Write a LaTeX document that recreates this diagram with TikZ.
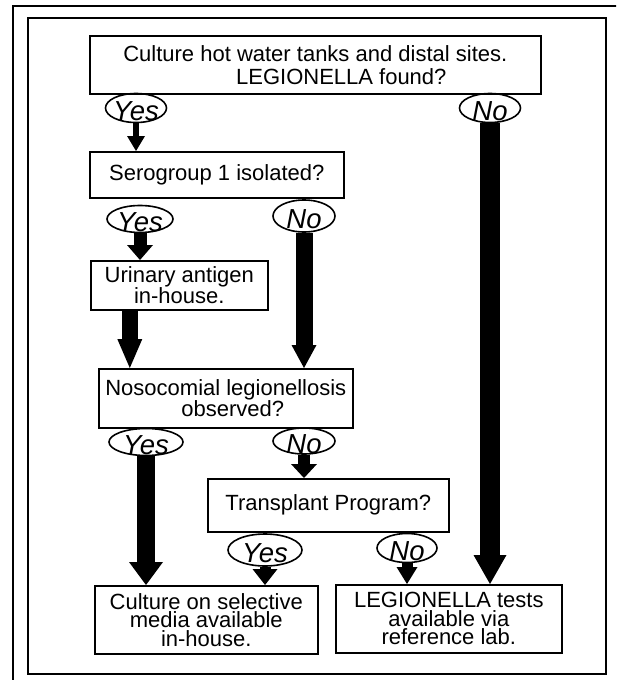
\documentclass[tikz,border=0pt]{standalone}
\usepackage{fontspec}
\setmainfont{Liberation Sans}
\usetikzlibrary{shapes.geometric,arrows.meta}
\begin{document}
\begin{tikzpicture}[x=1pt,y=-1pt,
  box/.style={draw, line width=1.6pt, inner sep=0pt, anchor=north west, align=center},
  txt/.style={font=\fontsize{22}{#1}\selectfont},
  lbl/.style={font=\fontsize{27.5}{27.5}\selectfont\itshape, inner sep=0pt, yshift=-3.5pt},
  oval/.style n args={3}{ellipse, draw, line width=1.6pt, inner sep=0pt,
     minimum width=#1, minimum height=#2, label={[lbl]center:#3}},
  arr/.style n args={3}{line width=#1, -{Triangle[width=#2,length=#3,line width=0pt]}}
]
\clip (0,0) rectangle (616,680);
\fill[white] (0,0) rectangle (616,680);
% frames
\draw[line width=2.5pt] (13,700) -- (13,6) -- (640,6);
\draw[line width=1.5pt] (28,18) rectangle (606,674);
% boxes
\node[box, txt=23, minimum width=451pt, minimum height=58pt] (top) at (89,35)
  {Culture hot water tanks and distal sites.\\\hspace*{52pt}LEGIONELLA found?};
\node[box, txt=22, minimum width=254pt, minimum height=46pt] (sero) at (89,151)
  {Serogroup 1 isolated?};
\node[box, txt=18.5, minimum width=177pt, minimum height=49pt] (urin) at (90,260)
  {Urinary antigen\\in-house.};
\node[box, txt=20, minimum width=254pt, minimum height=59pt] (noso) at (98,368)
  {Nosocomial legionellosis\\\hspace*{14pt}observed?};
\node[box, txt=22, minimum width=241pt, minimum height=53pt] (trans) at (207,478)
  {Transplant Program?};
\node[box, txt=18.5, minimum width=223pt, minimum height=68pt] (cult) at (94,585)
  {Culture on selective\\media available\\in-house.};
\node[box, txt=18.5, minimum width=226pt, minimum height=68pt] (leg) at (335,584)
  {LEGIONELLA tests\\available via\\reference lab.};
% ovals
\node[oval={61pt}{29pt}{Yes}] (yes1) at (136,108) {};
\node[oval={61pt}{29pt}{No}] (no1) at (490,108) {};
\node[oval={66pt}{27pt}{Yes}] (yes2) at (140,219) {};
\node[oval={62pt}{32pt}{No}] (no2) at (304,216) {};
\node[oval={74pt}{27pt}{Yes}] (yes3) at (146,442) {};
\node[oval={62pt}{26pt}{No}] (no3) at (304,441) {};
\node[oval={74pt}{32pt}{Yes}] (yes4) at (265,550) {};
\node[oval={60pt}{29pt}{No}] (no4) at (407,548) {};
% arrows
\draw[arr={6pt}{18pt}{15pt}] (yes1.south) -- (yes1.south |- sero.north);
\draw[arr={20pt}{33pt}{29pt}] (no1.south) -- (no1.south |- leg.north);
\draw[arr={13pt}{26pt}{15pt}] (yes2.south) -- (yes2.south |- urin.north);
\draw[arr={17pt}{25pt}{23pt}] (no2.south) -- (no2.south |- noso.north);
\draw[arr={16pt}{25pt}{29pt}] ([xshift=-49.5pt]urin.south) -- ([xshift=-49.5pt]urin.south |- noso.north);
\draw[arr={18pt}{34pt}{23pt}] (yes3.south) -- (yes3.south |- cult.north);
\draw[arr={12pt}{26pt}{14pt}] (no3.south) -- (no3.south |- trans.north);
\draw[arr={11pt}{25pt}{16pt}] (yes4.south) -- (yes4.south |- cult.north);
\draw[arr={11pt}{21pt}{17pt}] (no4.south) -- (no4.south |- leg.north);
\end{tikzpicture}
\end{document}
